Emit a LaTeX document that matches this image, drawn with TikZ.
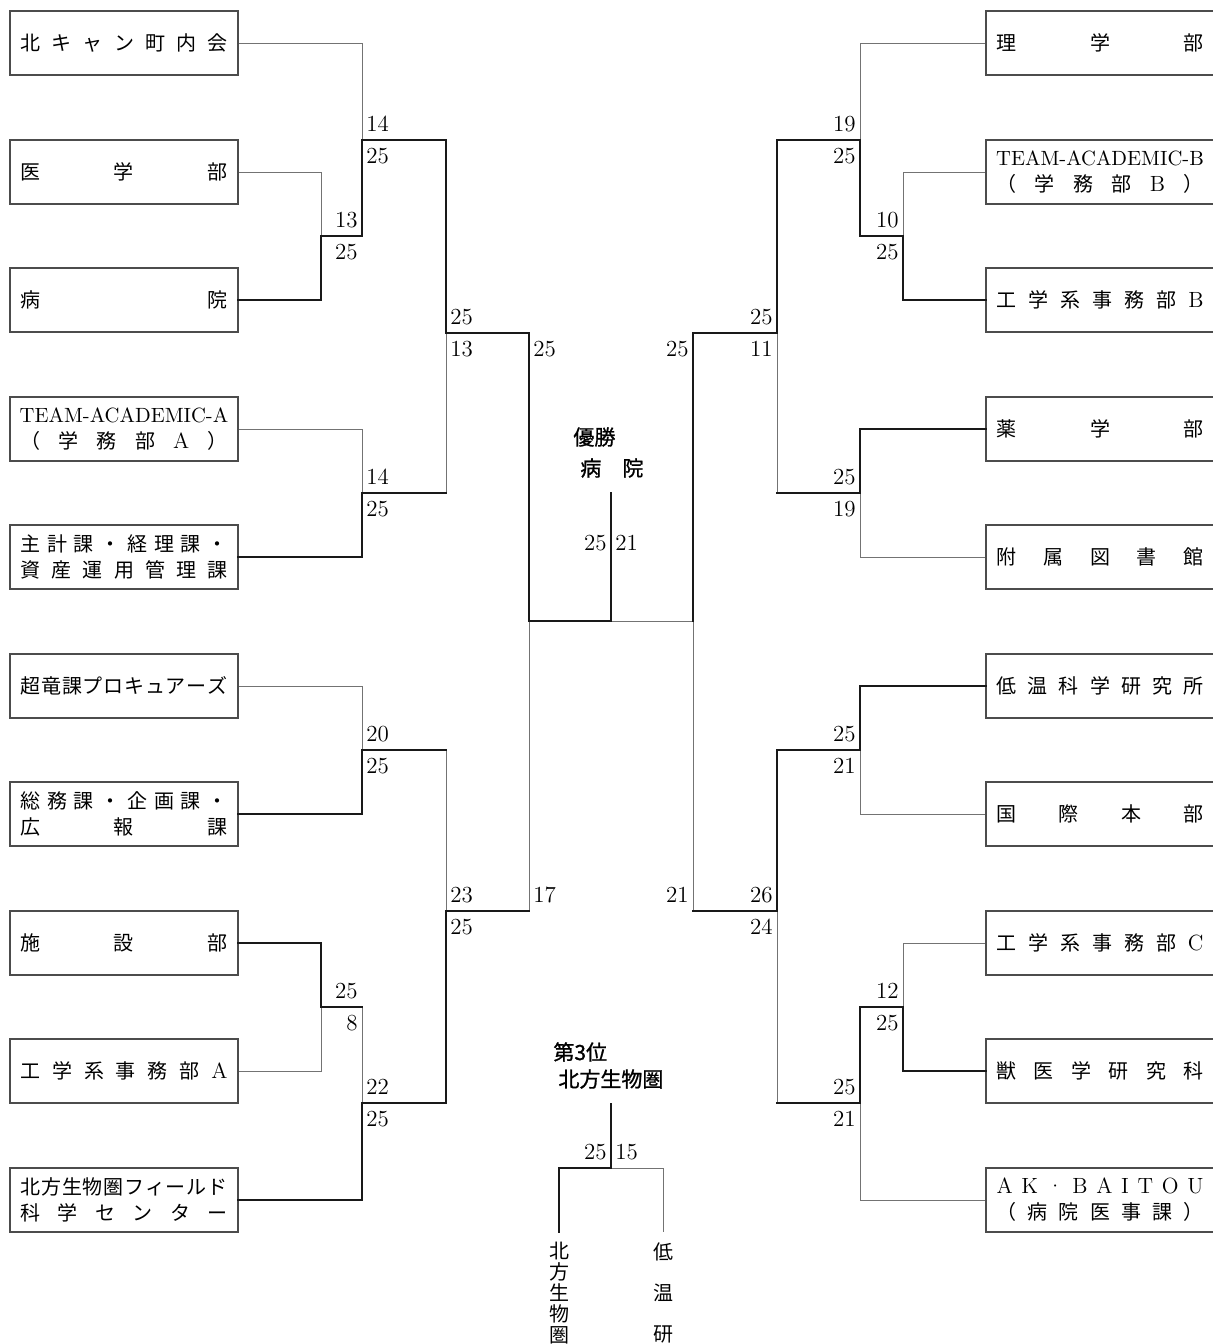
\documentclass[tikz,border=0pt]{standalone}
\usepackage{fontspec}
\newfontfamily\jp{Noto Sans CJK JP}
\newfontfamily\jptitulo{Noto Sans CJK JP}[FakeBold=1]
\newlength{\anchoTexto}
\setlength{\anchoTexto}{103.5pt}
% spread the characters of a name over the whole box
\def\SpreadEnd{SpreadEnd}
\def\SpreadFirst#1{{#1}\SpreadRest}
\def\SpreadRest#1{\ifx\SpreadEnd#1\else\hfill{#1}\expandafter\SpreadRest\fi}
\newcommand{\Spread}[1]{\makebox[\anchoTexto][s]{\SpreadFirst#1\SpreadEnd}}
\newcommand{\Lat}[1]{{\rmfamily\fontsize{11}{13}\selectfont #1}}
% two scores at one junction: #3=west puts them to the right, east to the left
\newcommand{\ScorePair}[5]{%
  \node[score,anchor=south #3] (#1u) at (#2) {#4};
  \node[score,anchor=north #3] (#1d) at (#2) {#5};
}

\begin{document}
\begin{tikzpicture}[x=0.5pt,y=-0.5pt,
    team/.style={draw=black!70,line width=0.7pt,minimum width=114pt,
      minimum height=32pt,inner sep=0pt,align=center,
      font=\jp\fontsize{10}{13}\selectfont},
    win/.style={line width=1.3pt,black!90,line cap=rect},
    lose/.style={line width=0.5pt,black!55},
    score/.style={font=\fontsize{11.5}{13}\selectfont,inner xsep=2pt,inner ysep=4pt},
    title/.style={font=\jptitulo\fontsize{10.5}{12}\selectfont,inner sep=0pt},
    vert/.style={inner sep=0pt,align=center}]
  \useasboundingbox (0,0) rectangle (1213,1344);

  % left teams
  \node[team] (L1) at (124,43) {\Spread{北キャン町内会}};
  \node[team] (L2) at (124,172) {\Spread{医学部}};
  \node[team] (L3) at (124,300) {\Spread{病院}};
  \node[team] (L4) at (124,429)
    {{\rmfamily\fontsize{10.3}{13}\selectfont TEAM-ACADEMIC-A}\\
     \Spread{（学務部{\Lat{A}}）}};
  \node[team] (L5) at (124,557) {\Spread{主計課・経理課・}\\\Spread{資産運用管理課}};
  \node[team] (L6) at (124,686) {\Spread{超竜課プロキュアーズ}};
  \node[team] (L7) at (124,814) {\Spread{総務課・企画課・}\\\Spread{広報課}};
  \node[team] (L8) at (124,943) {\Spread{施設部}};
  \node[team] (L9) at (124,1071) {\Spread{工学系事務部{\Lat{A}}}};
  \node[team] (L10) at (124,1200) {\Spread{北方生物圏フィールド}\\\Spread{科学センター}};

  % right teams
  \node[team] (R1) at (1100,43) {\Spread{理学部}};
  \node[team] (R2) at (1100,172)
    {{\rmfamily\fontsize{10.3}{13}\selectfont TEAM-ACADEMIC-B}\\
     \Spread{（学務部{\Lat{B}}）}};
  \node[team] (R3) at (1100,300) {\Spread{工学系事務部{\Lat{B}}}};
  \node[team] (R4) at (1100,429) {\Spread{薬学部}};
  \node[team] (R5) at (1100,557) {\Spread{附属図書館}};
  \node[team] (R6) at (1100,686) {\Spread{低温科学研究所}};
  \node[team] (R7) at (1100,814) {\Spread{国際本部}};
  \node[team] (R8) at (1100,943) {\Spread{工学系事務部{\Lat{C}}}};
  \node[team] (R9) at (1100,1071) {\Spread{獣医学研究科}};
  \node[team] (R10) at (1100,1200)
    {{\rmfamily\fontsize{11}{13}\selectfont\Spread{AK·BAITOU}}\\\Spread{（病院医事課）}};

  % junctions
  \coordinate (a1) at (321,236);
  \coordinate (a2) at (362,140);
  \coordinate (a3) at (362,493);
  \coordinate (a4) at (446,333);
  \coordinate (a5) at (362,750);
  \coordinate (a6) at (321,1007);
  \coordinate (a7) at (362,1103);
  \coordinate (a8) at (446,911);
  \coordinate (b1) at (903,236);
  \coordinate (b2) at (860,140);
  \coordinate (b3) at (860,493);
  \coordinate (b4) at (777,333);
  \coordinate (b5) at (860,750);
  \coordinate (b6) at (903,1007);
  \coordinate (b7) at (860,1103);
  \coordinate (b8) at (777,911);
  \coordinate (sL) at (529,621);
  \coordinate (sR) at (693,621);
  \coordinate (fin) at (611,621);
  \coordinate (champ) at (611,493);
  \coordinate (t3) at (611,1104);
  \coordinate (t3m) at (611,1168);
  \coordinate (t3L) at (559,1232);
  \coordinate (t3R) at (663,1232);

  % losers
  \draw[lose] (L2.east) -| (a1);
  \draw[lose] (L1.east) -| (a2);
  \draw[lose] (L4.east) -| (a3);
  \draw[lose] (a3 -| a4) -- (a4);
  \draw[lose] (L6.east) -| (a5);
  \draw[lose] (L9.east) -| (a6);
  \draw[lose] (a6 -| a7) -- (a7);
  \draw[lose] (a5 -| a8) -- (a8);
  \draw[lose] (a8 -| sL) -- (sL);
  \draw[lose] (R2.west) -| (b1);
  \draw[lose] (R1.west) -| (b2);
  \draw[lose] (R5.west) -| (b3);
  \draw[lose] (b3 -| b4) -- (b4);
  \draw[lose] (R7.west) -| (b5);
  \draw[lose] (R8.west) -| (b6);
  \draw[lose] (R10.west) -| (b7);
  \draw[lose] (b7 -| b8) -- (b8);
  \draw[lose] (b8 -| sR) -- (sR);
  \draw[lose] (sR) -- (fin);
  \draw[lose] (t3m) -| (t3R);

  % winners
  \draw[win] (L3.east) -| (a1);
  \draw[win] (a1) -| (a2);
  \draw[win] (L5.east) -| (a3);
  \draw[win] (a2) -| (a4);
  \draw[win] (a3) -- (a3 -| a4);
  \draw[win] (L7.east) -| (a5);
  \draw[win] (L8.east) -| (a6);
  \draw[win] (a6) -- (a6 -| a7);
  \draw[win] (L10.east) -| (a7);
  \draw[win] (a5) -- (a5 -| a8);
  \draw[win] (a7) -| (a8);
  \draw[win] (a4) -| (sL);
  \draw[win] (a8) -- (a8 -| sL);
  \draw[win] (R3.west) -| (b1);
  \draw[win] (b1) -| (b2);
  \draw[win] (R4.west) -| (b3);
  \draw[win] (b2) -| (b4);
  \draw[win] (b3) -- (b3 -| b4);
  \draw[win] (R6.west) -| (b5);
  \draw[win] (R9.west) -| (b6);
  \draw[win] (b6) -| (b7);
  \draw[win] (b5) -| (b8);
  \draw[win] (b7) -- (b7 -| b8);
  \draw[win] (b4) -| (sR);
  \draw[win] (b8) -- (b8 -| sR);
  \draw[win] (sL) -- (fin) -- (champ);
  \draw[win] (t3) -- (t3m) -| (t3L);

  % scores
  \ScorePair{s1}{a2 |- a1}{east}{13}{25}
  \ScorePair{s2}{a2}{west}{14}{25}
  \ScorePair{s3}{a3}{west}{14}{25}
  \ScorePair{s4}{a4}{west}{25}{13}
  \ScorePair{s5}{a5}{west}{20}{25}
  \ScorePair{s6}{a7 |- a6}{east}{25}{8}
  \ScorePair{s7}{a7}{west}{22}{25}
  \ScorePair{s8}{a8}{west}{23}{25}
  \node[score,anchor=north west] (s9) at (a4 -| sL) {25};
  \node[score,anchor=south west] (s10) at (a8 -| sL) {17};
  \ScorePair{r1}{b1}{east}{10}{25}
  \ScorePair{r2}{b2}{east}{19}{25}
  \ScorePair{r3}{b3}{east}{25}{19}
  \ScorePair{r4}{b4}{east}{25}{11}
  \ScorePair{r5}{b5}{east}{25}{21}
  \ScorePair{r6}{b6}{east}{12}{25}
  \ScorePair{r7}{b7}{east}{25}{21}
  \ScorePair{r8}{b8}{east}{26}{24}
  \node[score,anchor=north east] (r9) at (b4 -| sR) {25};
  \node[score,anchor=south east] (r10) at (b8 -| sR) {21};
  \node[score,anchor=east] (f1) at (611,543) {25};
  \node[score,anchor=west] (f2) at (611,543) {21};
  \node[score,anchor=south east] (t1) at (t3m) {25};
  \node[score,anchor=south west] (t2) at (t3m) {15};

  % results
  \node[title,anchor=west] (yusho) at (573,437) {優勝};
  \node[title,anchor=west] (yushoTeam) at (580,468) {病\hspace{1em}院};
  \node[title,anchor=west] (sani) at (553,1052) {第3位};
  \node[title,anchor=west] (saniTeam) at (558,1079) {北方生物圏};
  \node[vert,anchor=north,font=\jp\fontsize{10}{10.5}\selectfont] (v1)
    at (559,1242) {北\\方\\生\\物\\圏};
  \node[vert,anchor=north,font=\jp\fontsize{10}{20.5}\selectfont] (v2)
    at (663,1242) {低\\温\\研};
\end{tikzpicture}
\end{document}
